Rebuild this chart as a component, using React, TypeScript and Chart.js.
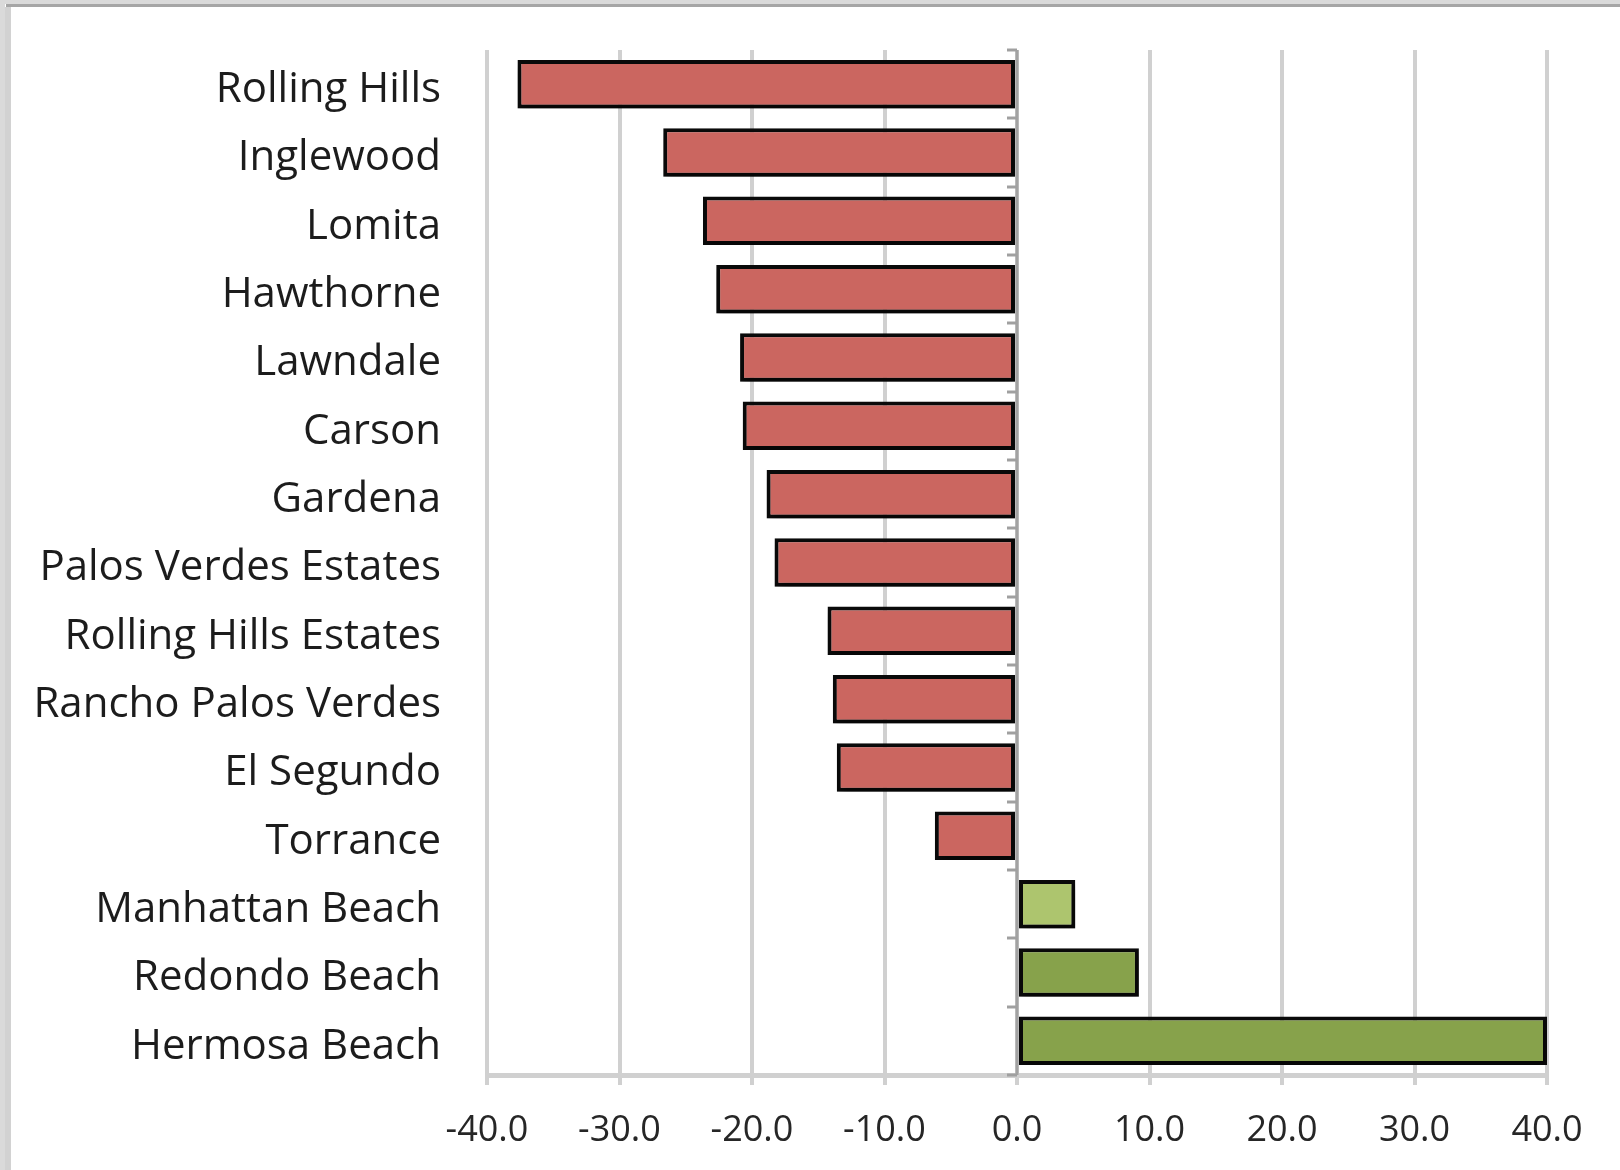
import React, { useEffect, useRef } from "react";
import { Chart, registerables } from "chart.js";

Chart.register(...registerables);

const cities = [
  "Rolling Hills",
  "Inglewood",
  "Lomita",
  "Hawthorne",
  "Lawndale",
  "Carson",
  "Gardena",
  "Palos Verdes Estates",
  "Rolling Hills Estates",
  "Rancho Palos Verdes",
  "El Segundo",
  "Torrance",
  "Manhattan Beach",
  "Redondo Beach",
  "Hermosa Beach",
];

const changes = [
  -37.7, -26.7, -23.7, -22.7, -20.9, -20.7, -18.9, -18.3, -14.3, -13.9, -13.6,
  -6.2, 4.4, 9.2, 40.0,
];

const xMin = -40;
const xMax = 40;
const xStep = 10;

const RED = "#CB6660";
const LIGHT_GREEN = "#ADC56E";
const GREEN = "#87A24B";

const framePlugin = {
  id: "frame",
  beforeDraw(chart: any) {
    const ctx = chart.ctx;
    ctx.save();
    ctx.fillStyle = "#FFFFFF";
    ctx.fillRect(0, 0, chart.width, chart.height);
    ctx.fillStyle = "#DADADA";
    ctx.fillRect(0, 0, chart.width, 4);
    ctx.fillRect(0, 0, 5, chart.height);
    ctx.fillStyle = "#A6A6A6";
    ctx.fillRect(6, 4, chart.width, 3);
    ctx.fillStyle = "#D2D2D2";
    ctx.fillRect(5, 7, 6, chart.height);
    ctx.restore();
  },
};

const shadowPlugin = {
  id: "barShadow",
  beforeDatasetsDraw(chart: any) {
    const ctx = chart.ctx;
    ctx.save();
    ctx.shadowColor = "rgba(0,0,0,0.4)";
    ctx.shadowBlur = 7;
    ctx.shadowOffsetX = 2;
    ctx.shadowOffsetY = 7;
  },
  afterDatasetsDraw(chart: any) {
    chart.ctx.restore();
  },
};

const zeroAxisPlugin = {
  id: "zeroAxis",
  afterDatasetsDraw(chart: any) {
    const ctx = chart.ctx;
    const xs = chart.scales.x;
    const ys = chart.scales.y;
    const x0 = Math.round(xs.getPixelForValue(0));
    const top = chart.chartArea.top;
    const bottom = chart.chartArea.bottom;
    ctx.save();
    ctx.strokeStyle = "rgba(150,150,150,0.8)";
    ctx.lineWidth = 3;
    ctx.beginPath();
    ctx.moveTo(x0, top);
    ctx.lineTo(x0, bottom);
    ctx.stroke();
    ctx.strokeStyle = "#A0A0A0";
    ctx.lineWidth = 3;
    const n = cities.length;
    const half = (ys.getPixelForValue(1) - ys.getPixelForValue(0)) / 2;
    for (let i = 0; i <= n; i++) {
      const y = i < n ? ys.getPixelForValue(i) - half : bottom;
      ctx.beginPath();
      ctx.moveTo(x0 - 10, Math.round(y));
      ctx.lineTo(x0, Math.round(y));
      ctx.stroke();
    }
    ctx.restore();
  },
};

export default function App() {
  const ref = useRef<HTMLCanvasElement | null>(null);

  useEffect(() => {
    if (!ref.current) return;
    const fills = changes.map((v) => (v < 0 ? RED : v < 5 ? LIGHT_GREEN : GREEN));
    const chart = new Chart(ref.current, {
      type: "bar",
      data: {
        labels: cities,
        datasets: [
          {
            data: changes,
            backgroundColor: fills,
            borderColor: "#0A0A0A",
            borderWidth: 4,
            borderSkipped: false,
            barPercentage: 0.71,
            categoryPercentage: 1,
          },
        ],
      },
      options: {
        indexAxis: "y",
        animation: false,
        responsive: false,
        devicePixelRatio: 1,
        layout: { padding: { top: 50, right: 73, left: 0, bottom: 0 } },
        plugins: {
          legend: { display: false },
          tooltip: { enabled: false },
        },
        scales: {
          x: {
            min: xMin,
            max: xMax,
            ticks: {
              stepSize: xStep,
              callback: (v: any) => Number(v).toFixed(1),
              font: { family: "'Open Sans'", size: 36 },
              color: "#262626",
              padding: 24,
              maxRotation: 0,
            },
            grid: {
              color: "#D0D0D0",
              lineWidth: 4,
              tickLength: 10,
              drawTicks: true,
            },
            border: { display: true, color: "#D0D0D0", width: 5 },
            afterFit: (s: any) => {
              s.height = 95;
            },
          },
          y: {
            ticks: {
              font: { family: "'Open Sans'", size: 42 },
              color: "#1C1C1C",
              padding: 46,
              labelOffset: 6,
              autoSkip: false,
            },
            grid: { display: false, drawTicks: false },
            border: { display: false },
            afterFit: (s: any) => {
              s.width = 487;
              s.paddingTop = 0;
              s.paddingBottom = 0;
            },
          },
        },
      },
      plugins: [framePlugin, shadowPlugin, zeroAxisPlugin],
    });
    return () => chart.destroy();
  }, []);

  return (
    <div style={{ position: "absolute", left: 0, top: 0, width: 1620, height: 1170 }}>
      <canvas ref={ref} width={1620} height={1170} style={{ display: "block" }} />
    </div>
  );
}
